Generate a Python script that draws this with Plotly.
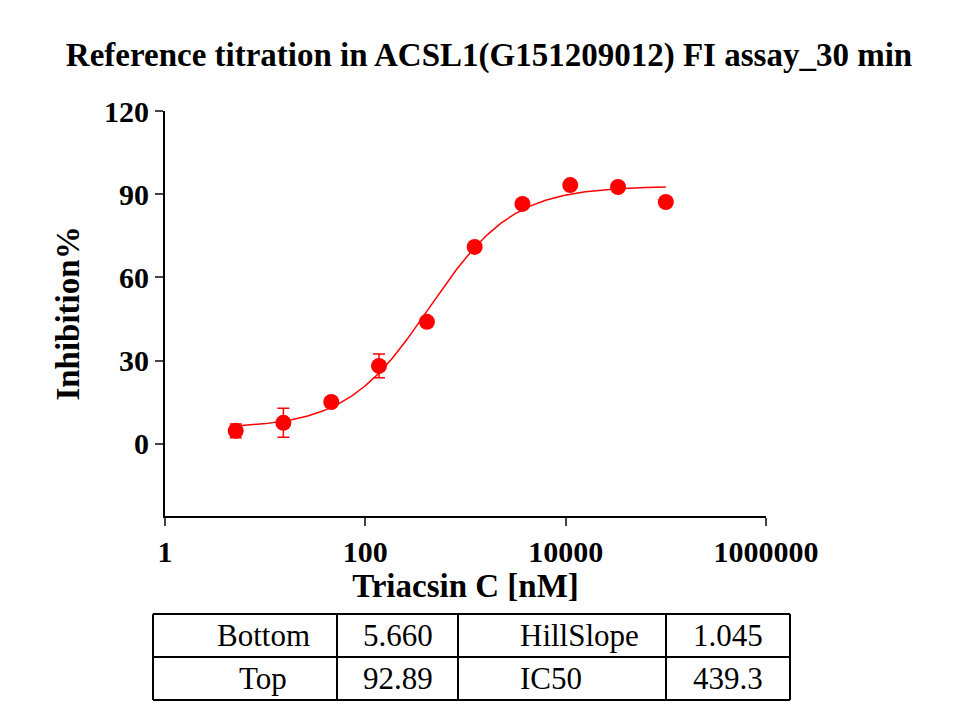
import numpy as np
import plotly.graph_objects as go

conc = [5.08, 15.2, 45.7, 137, 412, 1235, 3704, 11111, 33333, 100000]
inhib = [4.7, 7.6, 15.1, 28.1, 44.0, 71.0, 86.5, 93.3, 92.6, 87.2]
err = [2.5, 5.2, 0.8, 4.3, 1.0, 0.8, 0.8, 0.8, 0.8, 0.8]

bottom, top, hill, ic50 = 5.660, 92.89, 1.045, 439.3
param_names = ["Bottom", "Top", "HillSlope", "IC50"]
param_vals = ["5.660", "92.89", "1.045", "439.3"]

xs = np.logspace(np.log10(conc[0]), np.log10(conc[-1]), 300)
ys = bottom + (top - bottom) / (1 + (ic50 / xs) ** hill)

red = "#ff0000"
font = "Liberation Serif"

fig = go.Figure()
fig.add_trace(go.Scatter(x=xs, y=ys, mode="lines", line=dict(color=red, width=1.5), showlegend=False))
fig.add_trace(go.Scatter(x=conc, y=inhib, mode="markers",
                         marker=dict(color=red, size=16),
                         error_y=dict(type="data", array=err, color=red, thickness=1.5, width=6),
                         showlegend=False))

fig.update_layout(
    width=962, height=722, plot_bgcolor="white", paper_bgcolor="white",
    margin=dict(l=157, r=204, t=103, b=214),
    font=dict(family=font, color="black"),
    title=dict(text="<b>Reference titration in ACSL1(G151209012) FI assay_30 min</b>",
               x=0.5, xanchor="center", y=0.952, font=dict(size=33)),
)
fig.update_xaxes(type="log", range=[0, 6], tickvals=[1, 100, 10000, 1000000],
                 ticktext=["<b>1</b>", "<b>100</b>", "<b>10000</b>", "<b>1000000</b>"],
                 showgrid=False, zeroline=False, showline=True, linecolor="black", linewidth=2,
                 ticks="outside", ticklen=8, tickwidth=2, tickfont=dict(size=30),
                 title=dict(text="<b>Triacsin C [nM]</b>", font=dict(size=33), standoff=4))
fig.update_yaxes(range=[-26, 120], tickvals=[0, 30, 60, 90, 120],
                 ticktext=["<b>0</b>", "<b>30</b>", "<b>60</b>", "<b>90</b>", "<b>120</b>"],
                 showgrid=False, zeroline=False, showline=True, linecolor="black", linewidth=2,
                 ticks="outside", ticklen=8, tickwidth=2, tickfont=dict(size=30),
                 title=dict(text="<b>Inhibition%</b>", font=dict(size=33), standoff=14))

# parameter table drawn below the plot (reference pixel positions)
def px_x(p):
    return (p - 165) / 601

def px_y(p):
    return (516 - p) / 405

cols = [153, 337, 458, 666, 790]
rows = [614, 657, 700]
for c in cols:
    fig.add_shape(type="line", xref="paper", yref="paper", x0=px_x(c), x1=px_x(c),
                  y0=px_y(rows[0]), y1=px_y(rows[-1]), line=dict(color="black", width=2))
for r in rows:
    fig.add_shape(type="line", xref="paper", yref="paper", x0=px_x(cols[0]), x1=px_x(cols[-1]),
                  y0=px_y(r), y1=px_y(r), line=dict(color="black", width=2))

cells = [(0, 0, param_names[0]), (0, 1, param_vals[0]), (0, 2, param_names[2]), (0, 3, param_vals[2]),
         (1, 0, param_names[1]), (1, 1, param_vals[1]), (1, 2, param_names[3]), (1, 3, param_vals[3])]
for r, c, t in cells:
    cy = px_y((rows[r] + rows[r + 1]) / 2)
    if c == 2:
        fig.add_annotation(x=px_x(cols[c] + 60), xanchor="left", y=cy, yanchor="middle",
                           xref="paper", yref="paper", text=t, showarrow=False, font=dict(size=31))
        continue
    cx = cols[c] + 110 if c == 0 else (cols[c] + cols[c + 1]) / 2
    fig.add_annotation(x=px_x(cx), xanchor="center", y=cy, yanchor="middle", xref="paper", yref="paper",
                       text=t, showarrow=False, font=dict(size=31))

fig.write_html("out.html")
